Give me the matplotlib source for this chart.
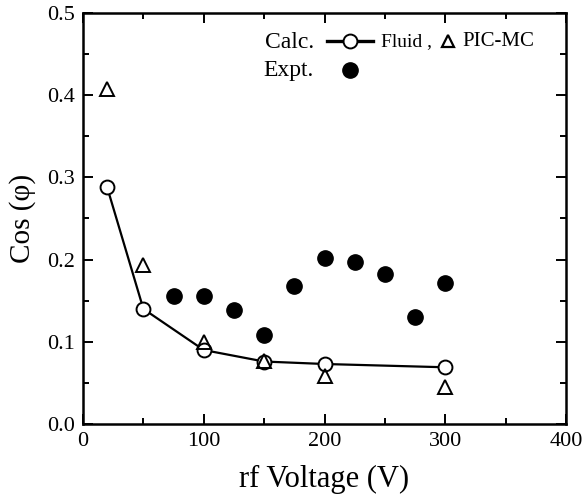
import numpy as np
import matplotlib
matplotlib.use("Agg")
import matplotlib.pyplot as plt
from matplotlib.ticker import MultipleLocator

plt.rcParams["font.family"] = ["Liberation Serif", "DejaVu Serif"]

# datos
v_fluid = [20, 50, 100, 150, 200, 300]
cos_fluid = [0.288, 0.140, 0.090, 0.076, 0.073, 0.069]
v_pic = [20, 50, 100, 150, 200, 300]
cos_pic = [0.407, 0.194, 0.100, 0.077, 0.059, 0.045]
v_expt = [75, 100, 125, 150, 175, 200, 225, 250, 275, 300]
cos_expt = [0.156, 0.156, 0.139, 0.108, 0.168, 0.202, 0.197, 0.182, 0.130, 0.172]

fig = plt.figure(figsize=(5.88, 5.03), dpi=100)
ax = fig.add_axes([83/588, 1-424/503, (566-83)/588, (424-13)/503])

ax.plot(v_fluid, cos_fluid, "k-", lw=1.6, marker="o", ms=10, mfc="white",
        mec="black", mew=1.4, zorder=3)
ax.plot(v_pic, cos_pic, ls="none", marker="^", ms=10, mfc="none",
        mec="black", mew=1.4, zorder=4)
ax.plot(v_expt, cos_expt, ls="none", marker="o", ms=11, mfc="black",
        mec="black", zorder=4)

ax.set_xlim(0, 400); ax.set_ylim(0, 0.5)
ax.xaxis.set_major_locator(MultipleLocator(100))
ax.xaxis.set_minor_locator(MultipleLocator(50))
ax.yaxis.set_major_locator(MultipleLocator(0.1))
ax.yaxis.set_minor_locator(MultipleLocator(0.05))
ax.yaxis.set_major_formatter(matplotlib.ticker.FormatStrFormatter("%.1f"))
ax.tick_params(which="both", direction="in", top=True, right=True, width=1.4)
ax.tick_params(which="major", length=7, labelsize=16, pad=6)
ax.tick_params(which="minor", length=4)
for s in ax.spines.values():
    s.set_linewidth(1.8)

ax.set_xlabel("rf Voltage (V)", fontsize=22, labelpad=10)
ax.set_ylabel("Cos (φ)", fontsize=21, labelpad=8)

# leyenda manual, como en el original
tr = ax.transAxes
ax.text(0.377, 0.929, "Calc.", transform=tr, fontsize=17, va="center")
ax.plot([0.505, 0.600], [0.931, 0.931], "k-", lw=2.4, transform=tr, clip_on=False)
ax.plot([0.553], [0.931], marker="o", ms=10, mfc="white", mec="black",
        mew=1.4, transform=tr, clip_on=False)
ax.text(0.616, 0.931, "Fluid ,", transform=tr, fontsize=14, va="center")
ax.plot([0.755], [0.933], marker="^", ms=9, mfc="none", mec="black",
        mew=1.6, transform=tr, clip_on=False)
ax.text(0.785, 0.931, "PIC-MC", transform=tr, fontsize=15, va="center")
ax.text(0.373, 0.861, "Expt.", transform=tr, fontsize=17, va="center")
ax.plot([0.553], [0.861], marker="o", ms=11, mfc="black", mec="black",
        transform=tr, clip_on=False)

fig.savefig("out.png", dpi=100)
